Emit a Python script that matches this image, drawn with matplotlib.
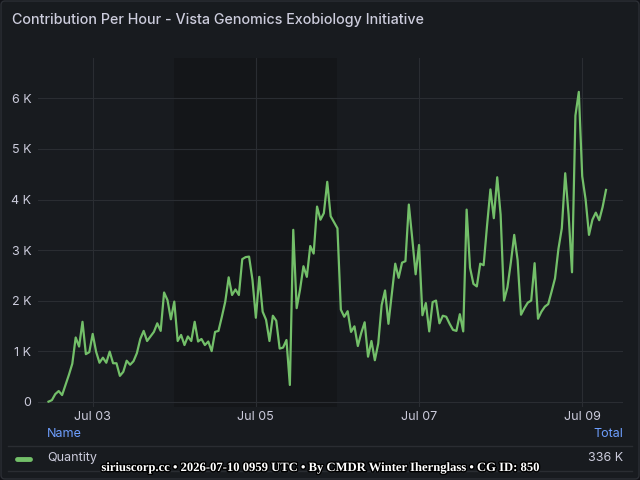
import matplotlib
matplotlib.use("Agg")
import matplotlib.pyplot as plt
import matplotlib.dates as mdates
import matplotlib.patheffects as pe
from matplotlib.lines import Line2D
from matplotlib.patches import FancyBboxPatch
from matplotlib.ticker import FuncFormatter, MultipleLocator
import pandas as pd

# hourly contribution, thousands
start_time = "2026-07-02 11:00"
quantity_k = [
    0.00, 0.03, 0.15, 0.21, 0.13, 0.33, 0.53, 0.75, 1.27, 1.09,
    1.58, 0.94, 0.98, 1.34, 0.99, 0.77, 0.87, 0.77, 0.99, 0.76,
    0.76, 0.51, 0.59, 0.81, 0.73, 0.80, 0.96, 1.24, 1.40, 1.20,
    1.29, 1.38, 1.55, 1.40, 2.16, 2.01, 1.63, 1.98, 1.20, 1.32,
    1.12, 1.29, 1.20, 1.58, 1.19, 1.24, 1.12, 1.19, 1.00, 1.38,
    1.40, 1.68, 1.98, 2.46, 2.11, 2.22, 2.11, 2.82, 2.86, 2.87,
    2.41, 1.66, 2.47, 1.78, 1.62, 1.20, 1.70, 1.60, 1.05, 1.07,
    1.22, 0.33, 3.40, 1.85, 2.22, 2.68, 2.47, 3.08, 2.93, 3.86,
    3.60, 3.73, 4.35, 3.67, 3.55, 3.43, 1.82, 1.68, 1.79, 1.38,
    1.49, 1.10, 1.36, 1.57, 0.89, 1.20, 0.82, 1.15, 1.91, 2.20,
    1.54, 2.14, 2.73, 2.45, 2.75, 2.78, 3.90, 3.23, 2.52, 3.10,
    1.71, 1.95, 1.39, 1.97, 2.00, 1.55, 1.70, 1.68, 1.54, 1.42,
    1.40, 1.73, 1.39, 3.80, 2.65, 2.33, 2.28, 2.73, 2.70, 3.48,
    4.20, 3.63, 4.44, 3.70, 2.00, 2.26, 2.75, 3.30, 2.80, 1.72,
    1.85, 1.96, 2.00, 2.74, 1.64, 1.78, 1.88, 1.93, 2.18, 2.44,
    3.02, 3.43, 4.52, 3.70, 2.56, 5.66, 6.13, 4.46, 4.00, 3.30,
    3.60, 3.74, 3.59, 3.85, 4.19,
]
times = pd.date_range(start_time, periods=len(quantity_k), freq="h")
weekend = ["2026-07-04", "2026-07-06"]
x_range = ["2026-07-02 08:00", "2026-07-09 12:00"]
x_ticks = ["2026-07-03", "2026-07-05", "2026-07-07", "2026-07-09"]
series_name = "Quantity"
series_total = "336 K"
title = "Contribution Per Hour - Vista Genomics Exobiology Initiative"
footer = "siriuscorp.cc \u2022 2026-07-10 0959 UTC \u2022 By CMDR Winter Ihernglass \u2022 CG ID: 850"

BG = "#111217"
PANEL = "#181b1f"
BAND = "#141619"
GRID = "#2a2d32"
TEXT = "#ccccdc"
GREEN = "#73bf69"
BLUE = "#6e9fff"

W, H = 640, 480


def fx(px):
    return px / W


def fy(py):
    return 1 - py / H


fig = plt.figure(figsize=(6.4, 4.8), dpi=100, facecolor=BG)
fig.patches.append(FancyBboxPatch(
    (0.01, 0.01), 6.38, 4.78, boxstyle="round,pad=0,rounding_size=0.04",
    transform=fig.dpi_scale_trans, facecolor=PANEL, edgecolor="#2c2f35", linewidth=1,
    zorder=-10))

ax = fig.add_axes([fx(38.3), fy(406.7), fx(623) - fx(38.3), fy(57.5) - fy(406.7)])
ax.set_facecolor("none")
ax.axvspan(pd.Timestamp(weekend[0]), pd.Timestamp(weekend[1]), color=BAND, zorder=0, lw=0)
ax.plot(times, quantity_k, color=GREEN, linewidth=1.6, zorder=3)

ax.set_xlim(pd.Timestamp(x_range[0]), pd.Timestamp(x_range[1]))
ax.set_ylim(-0.1, 6.81)
ax.yaxis.set_major_locator(MultipleLocator(1))
ax.yaxis.set_major_formatter(FuncFormatter(lambda v, _: "0" if v == 0 else f"{v:.0f} K"))
ax.set_xticks(pd.to_datetime(x_ticks))
ax.xaxis.set_major_formatter(mdates.DateFormatter("%b %d"))
ax.grid(True, color=GRID, linewidth=0.8, zorder=1)
ax.set_axisbelow(True)
for spine in ax.spines.values():
    spine.set_visible(False)
ax.tick_params(length=0, colors=TEXT, labelsize=9)
ax.tick_params(axis="y", pad=5)
ax.tick_params(axis="x", pad=3)
for lab in ax.get_xticklabels() + ax.get_yticklabels():
    lab.set_fontfamily("Inter")

fig.text(fx(12), fy(20), title, color=TEXT, fontsize=10.3, fontfamily="Inter",
         fontweight="medium", ha="left", va="center")

# legend table
fig.text(fx(47), fy(434), "Name", color=BLUE, fontsize=9, fontfamily="Inter", ha="left", va="center")
fig.text(fx(623), fy(434), "Total", color=BLUE, fontsize=9, fontfamily="Inter", ha="right", va="center")
fig.add_artist(Line2D([fx(8), fx(632)], [fy(446)] * 2, color=GRID, linewidth=1))
fig.add_artist(Line2D([fx(17), fx(30)], [fy(459)] * 2, color=GREEN, linewidth=3.5,
                      solid_capstyle="round"))
fig.text(fx(47), fy(458), series_name, color=TEXT, fontsize=9, fontfamily="Inter", ha="left", va="center")
fig.text(fx(623), fy(458), series_total, color=TEXT, fontsize=9, fontfamily="Inter", ha="right", va="center")
fig.add_artist(Line2D([fx(8), fx(632)], [fy(471)] * 2, color=GRID, linewidth=1))

fig.text(0.5, fy(468), footer, color="white", fontsize=9.1, fontfamily="Liberation Serif",
         fontweight="bold", ha="center", va="center",
         path_effects=[pe.withStroke(linewidth=2, foreground="black")])

fig.savefig("out.png", dpi=100, facecolor=BG)
